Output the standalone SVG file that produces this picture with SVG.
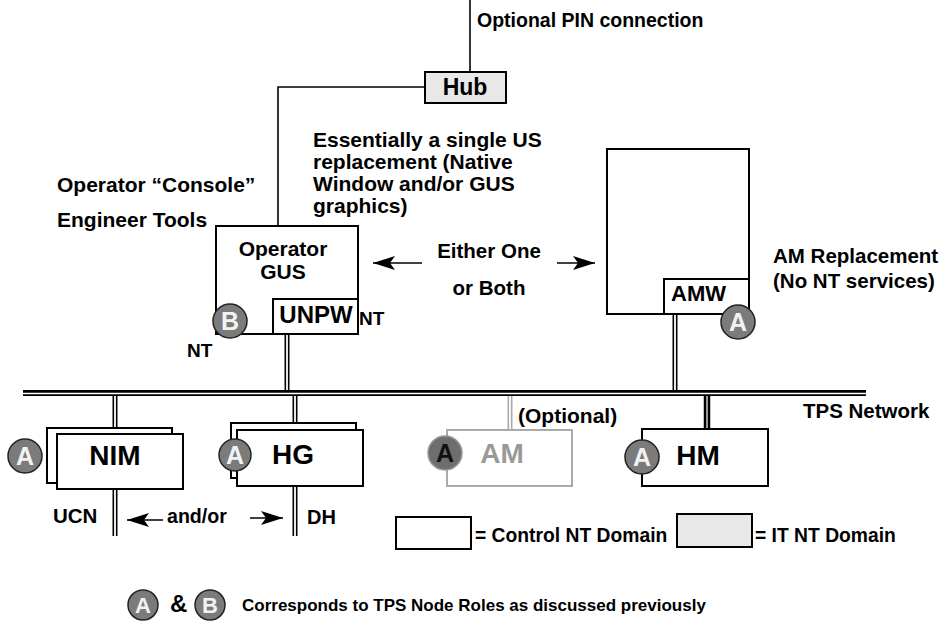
<svg xmlns="http://www.w3.org/2000/svg" width="948" height="623" viewBox="0 0 948 623">
<defs>
<style>
text{font-family:"Liberation Sans",Arial,Helvetica,sans-serif;font-weight:bold;fill:#000}
.box{fill:#fff;stroke:#000;stroke-width:2}
.it{fill:#e8e8e8;stroke:#000;stroke-width:2}
.wire{fill:none;stroke:#000;stroke-width:1.6}
.dblo{stroke:#000;stroke-width:5;fill:none}
.dbli{stroke:#fff;stroke-width:1.8;fill:none}
.role{fill:#7b7b7b;stroke:#222;stroke-width:1.5}
.rl{fill:#f2f2f2;font-size:25px;text-anchor:middle}
.m{font-size:20.5px}
.big{font-size:28px;text-anchor:middle}
.mid{text-anchor:middle}
</style>
<marker id="ah" viewBox="0 0 22 14" refX="22" refY="7" markerWidth="22" markerHeight="14" markerUnits="userSpaceOnUse" orient="auto"><path d="M0,0 L22,7 L0,14 L5,7 z" fill="#000"/></marker>
</defs>
<rect width="948" height="623" fill="#fff"/>

<g id="connectors">
<path class="wire" d="M470,0 V72"/>
<path class="wire" d="M425,87 H278 V226"/>
<path class="dblo" d="M287,334 V390"/><path class="dbli" d="M287,334 V390"/>
<path class="dblo" d="M675,314 V390"/><path class="dbli" d="M675,314 V390"/>
<path class="dblo" d="M115,396 V434"/><path class="dbli" d="M115,396 V434"/>
<path class="dblo" d="M115,489 V536"/><path class="dbli" d="M115,489 V536"/>
<path class="dblo" d="M295,396 V430"/><path class="dbli" d="M295,396 V430"/>
<path class="dblo" d="M295,486 V536"/><path class="dbli" d="M295,486 V536"/>
<path d="M510,396 V430" stroke="#aaa" stroke-width="5" fill="none"/><path class="dbli" d="M510,396 V430"/>
<path d="M707,396 V429" stroke="#000" stroke-width="6.5" fill="none"/><path d="M707,396 V429" stroke="#fff" stroke-width="1.2" fill="none"/>
<g id="tps-network">
<path d="M23,393 H866" stroke="#000" stroke-width="6" fill="none"/>
<path d="M23,393.5 H866" stroke="#fff" stroke-width="1.6" fill="none"/>
</g>
<path class="wire" d="M422,263 H373" marker-end="url(#ah)"/>
<path class="wire" d="M557,263 H595" marker-end="url(#ah)"/>
<path class="wire" d="M163,520 H127" marker-end="url(#ah)"/>
<path class="wire" d="M250,518 H283" marker-end="url(#ah)"/>
</g>

<g id="hub">
<rect class="it" x="425" y="72" width="81" height="31"/>
<text x="465" y="95" font-size="23" class="mid">Hub</text>
</g>

<g id="operator-gus">
<rect class="box" x="216" y="226" width="142" height="108"/>
<text x="283" y="256" font-size="21" class="mid">Operator</text>
<text x="283" y="279" font-size="21" class="mid">GUS</text>
<rect class="box" x="273" y="299" width="85" height="35"/>
<text x="316" y="323" font-size="24" class="mid">UNPW</text>
<circle class="role" cx="230" cy="321" r="17"/>
<text class="rl" x="230" y="330">B</text>
</g>

<g id="am-replacement">
<rect class="box" x="607" y="149" width="142" height="165"/>
<rect class="box" x="664" y="279" width="85" height="35"/>
<text x="671" y="301" font-size="22">AMW</text>
<circle class="role" cx="738" cy="322" r="17"/>
<text class="rl" x="738" y="331">A</text>
</g>

<g id="nim">
<rect class="box" x="47" y="428" width="125" height="55"/>
<rect class="box" x="57" y="434" width="126" height="55"/>
<text class="big" x="115" y="465">NIM</text>
<circle class="role" cx="25" cy="456" r="17"/>
<text class="rl" x="25" y="465">A</text>
</g>

<g id="hg">
<rect class="box" x="231" y="423" width="125" height="55"/>
<rect class="box" x="237" y="430" width="126" height="56"/>
<text class="big" x="293" y="464">HG</text>
<circle class="role" cx="235" cy="455" r="16"/>
<text class="rl" x="235" y="464">A</text>
</g>

<g id="am">
<rect x="447" y="430" width="125" height="56" fill="#fff" stroke="#aaa" stroke-width="2"/>
<text class="big" x="502" y="463" style="fill:#999">AM</text>
<circle cx="445" cy="453" r="17" fill="#6e6e6e" stroke="#999" stroke-width="1.5"/>
<text class="rl" x="445" y="462" style="fill:#111">A</text>
</g>

<g id="hm">
<rect class="box" x="642" y="429" width="126" height="57"/>
<text class="big" x="698" y="465">HM</text>
<circle class="role" cx="642" cy="457" r="17"/>
<text class="rl" x="642" y="466">A</text>
</g>

<g id="labels">
<text x="477" y="27" font-size="19.5">Optional PIN connection</text>
<text x="313" y="147" font-size="21">Essentially a single US</text>
<text x="313" y="169" font-size="21">replacement (Native</text>
<text x="313" y="191" font-size="21">Window and/or GUS</text>
<text x="313" y="213" font-size="21">graphics)</text>
<text x="57" y="192" font-size="21">Operator “Console”</text>
<text x="57" y="227" font-size="21">Engineer Tools</text>
<text x="359" y="325" font-size="19">NT</text>
<text x="187" y="357" font-size="19">NT</text>
<text x="489" y="258" class="m mid">Either One</text>
<text x="489" y="295" class="m mid">or Both</text>
<text x="773" y="263" font-size="20.5">AM Replacement</text>
<text x="773" y="288" font-size="20.5">(No NT services)</text>
<text x="518" y="423" font-size="21">(Optional)</text>
<text x="803" y="418" class="m">TPS Network</text>
<text x="53" y="523" class="m">UCN</text>
<text x="167" y="523" font-size="19.6">and/or</text>
<text x="307" y="524" font-size="20">DH</text>
</g>

<g id="legend">
<rect class="box" x="396" y="517" width="75" height="32" stroke-width="1.5"/>
<text x="475" y="542" font-size="19.3">= Control NT Domain</text>
<rect class="it" x="677" y="514" width="75" height="33" stroke-width="1.5"/>
<text x="755" y="542" font-size="19.3">= IT NT Domain</text>
<circle class="role" cx="143" cy="605" r="15"/>
<text x="143" y="613" font-size="22" class="mid" style="fill:#f2f2f2">A</text>
<text x="170" y="612" font-size="24">&amp;</text>
<circle class="role" cx="210" cy="605" r="15"/>
<text x="210" y="613" font-size="22" class="mid" style="fill:#f2f2f2">B</text>
<text x="242" y="611" font-size="17">Corresponds to TPS Node Roles as discussed previously</text>
</g>
</svg>
